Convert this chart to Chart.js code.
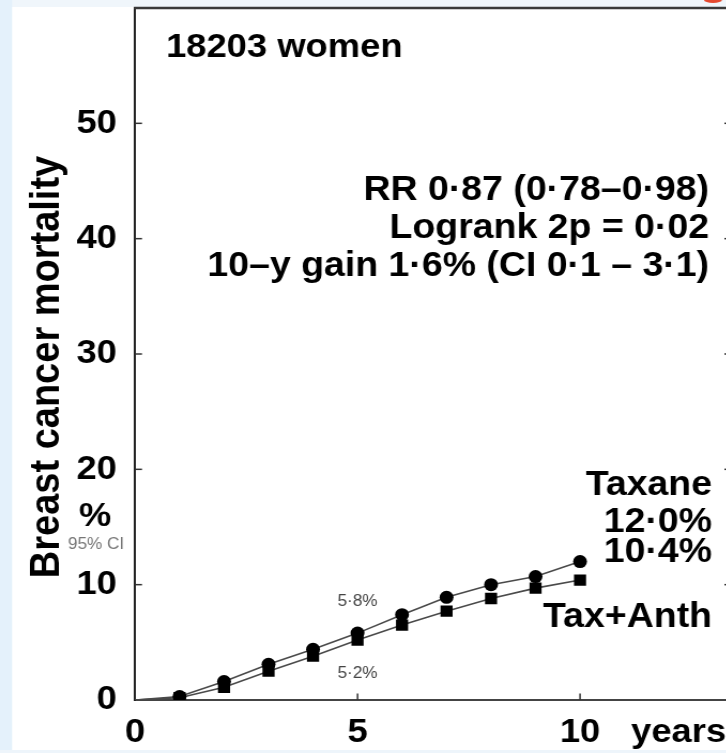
<!DOCTYPE html>
<html><head><meta charset="utf-8">
<script src="https://cdn.jsdelivr.net/npm/chart.js@4.4.0/dist/chart.umd.min.js"></script>
<style>
html,body{margin:0;padding:0;width:726px;height:753px;overflow:hidden;background:#fff;}
#wrap{position:absolute;left:0;top:0;width:700px;height:753px;transform:scaleX(1.07);transform-origin:0 0;}
canvas{display:block;}
</style></head><body>
<div id="wrap"><canvas id="c" width="700" height="753"></canvas></div>
<script>
// ---- data ----
const years = [0, 1, 2, 3, 4, 5, 6, 7, 8, 9, 10];
const taxane = [0, 0.3, 1.6, 3.1, 4.4, 5.8, 7.4, 8.9, 10.0, 10.7, 12.0];
const taxAnth = [0, 0.2, 1.1, 2.5, 3.8, 5.2, 6.5, 7.7, 8.8, 9.7, 10.4];
const xTicks = [0, 5, 10];
const yTicks = [0, 10, 20, 30, 40, 50];
const xMax = 13.4;
const yMax = 60;
const yTitle = 'Breast cancer mortality';
const statLines = ['RR 0·87 (0·78–0·98)', 'Logrank 2p = 0·02', '10–y gain 1·6% (CI 0·1 – 3·1)'];

const S = 1.07; // horizontal stretch of the whole picture
const FF = '"Liberation Sans", Arial, Helvetica, sans-serif';
Chart.defaults.font.family = FF;

const toPts = arr => years.map((x, i) => ({x: x, y: arr[i]}));

function txt(ctx, s, x, y, font, align, base, color) {
  ctx.save();
  ctx.font = font; ctx.textAlign = align; ctx.textBaseline = base; ctx.fillStyle = color || '#000';
  ctx.fillText(s, x, y);
  ctx.restore();
}
const X = v => v / S; // reference-page x to canvas x
const pct = v => v.toFixed(1).replace('.', '·') + '%';

const deco = {
  id: 'deco',
  beforeDraw(chart) {
    const ctx = chart.ctx;
    ctx.save();
    ctx.fillStyle = '#fff';
    ctx.fillRect(0, 0, chart.width, chart.height);
    ctx.fillStyle = '#f0f6fb';
    ctx.fillRect(0, 0, chart.width, 7);
    ctx.fillStyle = '#e4f1fb';
    ctx.fillRect(0, 0, X(12), chart.height);
    ctx.fillStyle = '#eef5fb';
    ctx.fillRect(0, 750, chart.width, 3);
    ctx.fillStyle = '#e5492f';
    ctx.beginPath();
    ctx.ellipse(X(713), 0, X(9), 3, 0, 0, Math.PI * 2);
    ctx.fill();
    ctx.restore();
  },
  afterDraw(chart) {
    const ctx = chart.ctx;
    const a = chart.chartArea;
    const xs = chart.scales.x, ys = chart.scales.y;
    ctx.save();
    // top frame
    ctx.strokeStyle = '#3a3a3a';
    ctx.lineWidth = 2.5;
    ctx.beginPath(); ctx.moveTo(a.left - 1, a.top); ctx.lineTo(a.right, a.top); ctx.stroke();
    // inward tick marks
    ctx.strokeStyle = '#333';
    ctx.lineWidth = 1.5;
    const tl = 6.5;
    yTicks.forEach(v => {
      if (v === 0) return;
      const py = ys.getPixelForValue(v);
      ctx.beginPath(); ctx.moveTo(a.left, py); ctx.lineTo(a.left + tl, py); ctx.stroke();
      ctx.beginPath(); ctx.moveTo(a.right, py); ctx.lineTo(a.right - tl, py); ctx.stroke();
    });
    xTicks.forEach(v => {
      if (v === 0) return;
      const px = xs.getPixelForValue(v);
      ctx.beginPath(); ctx.moveTo(px, a.bottom); ctx.lineTo(px, a.bottom - tl); ctx.stroke();
    });
    ctx.restore();

    // texts
    txt(ctx, '18203 women', X(166), 57, 'bold 34px ' + FF, 'left', 'alphabetic');
    const base = [200, 238, 276];
    statLines.forEach((s, i) => txt(ctx, s, X(709), base[i], 'bold 35px ' + FF, 'right', 'alphabetic'));
    txt(ctx, 'Taxane', X(712), 495, 'bold 35px ' + FF, 'right', 'alphabetic');
    const last = taxane.length - 1;
    txt(ctx, pct(taxane[last]), X(712), 532, 'bold 35px ' + FF, 'right', 'alphabetic');
    txt(ctx, pct(taxAnth[last]), X(712), 562, 'bold 35px ' + FF, 'right', 'alphabetic');
    txt(ctx, 'Tax+Anth', X(712), 627, 'bold 35px ' + FF, 'right', 'alphabetic');
    const i5 = years.indexOf(5);
    const p5 = xs.getPixelForValue(5);
    txt(ctx, pct(taxane[i5]), p5, 602, '16px ' + FF, 'center', 'middle', '#444');
    txt(ctx, pct(taxAnth[i5]), p5, 674, '16px ' + FF, 'center', 'middle', '#444');
    // y title
    ctx.save();
    ctx.translate(X(48), 367);
    ctx.rotate(-Math.PI / 2);
    txt(ctx, yTitle, 0, 0, 'bold 38px ' + FF, 'center', 'middle');
    ctx.restore();
    txt(ctx, '%', X(95), 517, 'bold 34px ' + FF, 'center', 'middle');
    txt(ctx, '95% CI', X(96), 545, '16px ' + FF, 'center', 'middle', '#777');
    txt(ctx, 'years', X(631), 733, 'bold 34px ' + FF, 'left', 'middle');
  }
};

const ptR = r => (c => c.dataIndex === 0 ? 0 : r);

new Chart(document.getElementById('c'), {
  type: 'line',
  data: {
    datasets: [
      {label: 'Taxane', data: toPts(taxane), borderColor: '#4a4a4a', borderWidth: 1.6,
       pointStyle: 'circle', pointRadius: ptR(6.5), pointBackgroundColor: '#000', pointBorderColor: '#000',
       pointBorderWidth: 0, tension: 0, order: 0},
      {label: 'Tax+Anth', data: toPts(taxAnth), borderColor: '#4a4a4a', borderWidth: 1.6,
       pointStyle: 'rect', pointRadius: ptR(8), pointBackgroundColor: '#000', pointBorderColor: '#000',
       pointBorderWidth: 0, tension: 0, order: 1}
    ]
  },
  options: {
    responsive: false,
    animation: false,
    events: [],
    layout: {padding: {left: 0, top: 8, right: 700 - 683.5, bottom: 0}},
    plugins: {legend: {display: false}, tooltip: {enabled: false}},
    scales: {
      x: {
        type: 'linear', min: 0, max: xMax,
        afterBuildTicks: s => { s.ticks = xTicks.map(v => ({value: v})); },
        afterFit: s => { s.height = 53; s.paddingLeft = 0; s.paddingRight = 0; s.paddingTop = 0; s.paddingBottom = 0; },
        grid: {drawOnChartArea: false, drawTicks: false},
        border: {display: true, color: '#444', width: 2},
        ticks: {autoSkip: false, maxRotation: 0, padding: 12.6, color: '#000', font: {size: 34, weight: 'bold'}}
      },
      y: {
        type: 'linear', min: 0, max: yMax,
        afterBuildTicks: s => { s.ticks = yTicks.map(v => ({value: v})); },
        afterFit: s => { s.width = 126.2; s.paddingLeft = 0; s.paddingRight = 0; s.paddingTop = 0; s.paddingBottom = 0; },
        grid: {drawOnChartArea: false, drawTicks: false},
        border: {display: true, color: '#222', width: 2},
        ticks: {autoSkip: false, padding: 17, color: '#000', font: {size: 34, weight: 'bold'}}
      }
    }
  },
  plugins: [deco]
});
</script>
</body></html>
